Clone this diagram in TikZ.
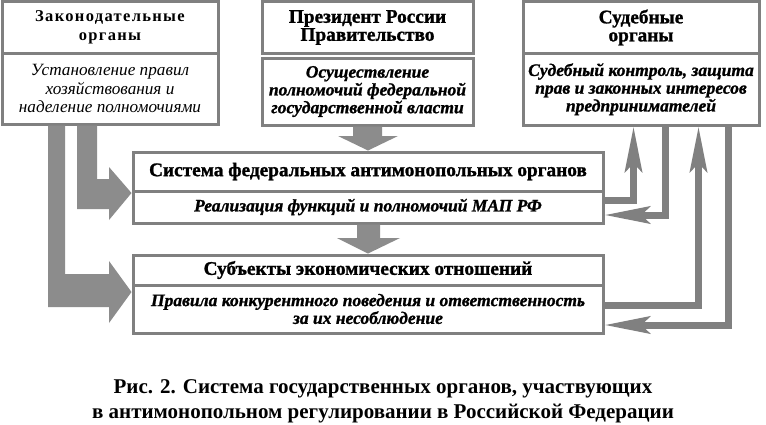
\documentclass[tikz,border=0pt]{standalone}
\usepackage{fontspec}
\setmainfont{Liberation Serif}
\newfontfamily\spacedbold[UprightFont={* Bold},LetterSpace=8]{Liberation Serif}
\newfontfamily\heavyfont[UprightFont={* Bold},FakeBold=1.2]{Liberation Serif}
\newfontfamily\heavyit[UprightFont={* Bold Italic},FakeBold=1.2]{Liberation Serif}
\usetikzlibrary{arrows.meta,calc}
\definecolor{lg}{RGB}{128,128,128}
\definecolor{ag}{RGB}{140,140,140}
\begin{document}
\begin{tikzpicture}[x=1pt,y=-1pt,
 box/.style={draw=lg,line width=3pt,anchor=north west,inner sep=0pt,outer sep=0pt,align=center,fill=white},
 hdrL/.style={font=\spacedbold\fontsize{16.5}{19}\selectfont},
 hdrH/.style={font=\heavyfont\fontsize{19.3}{18}\selectfont},
 descI/.style={font=\itshape\fontsize{17.2}{18.5}\selectfont},
 descB/.style={font=\heavyit\fontsize{17.5}{17.8}\selectfont},
 thinarr/.style={draw=lg,line width=7pt,line join=miter,-{Stealth[length=45pt,width=17pt,inset=8pt]}},
 blk/.style={fill=ag,draw=none},
]
\useasboundingbox[fill=white] (0,0) rectangle (766,424);
% boxes
\node[box,hdrL,minimum width=216pt,minimum height=51.5pt] (legH) at (2,1.5) {Законодательные\\органы};
\node[box,descI,minimum width=216pt,minimum height=71pt] (legD) at (2,53) {Установление правил\\хозяйствования и\\наделение полномочиями};
\node[box,hdrH,minimum width=211pt,minimum height=52pt] (presH) at (262,1.5) {Президент России\\Правительство};
\node[box,descB,minimum width=211pt,minimum height=67pt] (presD) at (262,58) {Осуществление\\полномочий федеральной\\государственной власти};
\node[box,hdrH,minimum width=236pt,minimum height=52pt] (judH) at (523,1.5) {Судебные\\органы};
\node[box,descB,minimum width=236pt,minimum height=71.5pt] (judD) at (523,53.5) {Судебный контроль, защита\\прав и законных интересов\\предпринимателей};
\node[box,hdrH,minimum width=470pt,minimum height=39pt] (sysH) at (133,152) {Система федеральных антимонопольных органов};
\node[box,descB,minimum width=470pt,minimum height=32pt] (sysD) at (133,191) {Реализация функций и полномочий МАП РФ};
\node[box,hdrH,minimum width=470pt,minimum height=30pt] (subH) at (133,255) {Субъекты экономических отношений};
\node[box,descB,minimum width=470pt,minimum height=48pt] (subD) at (133,285) {Правила конкурентного поведения и ответственность\\за их несоблюдение};
% block arrows
\fill[blk] ($(legD.south west)+(46,1.5)$) -- (65,125.5) -- (65,274) -- (109,274) -- (109,261) -- ($(subD.west |- 0,292)+(-1.5,0)$) -- (109,323) -- (109,307) -- (48,307) -- cycle;
\fill[blk] ($(legD.south west)+(75,1.5)$) -- (97,125.5) -- (97,179) -- (109,179) -- (109,167) -- ($(sysD.west |- 0,193)+(-1.5,0)$) -- (109,220) -- (109,209) -- (77,209) -- cycle;
\fill[blk] ($(presD.south west)+(91,1.5)$) -- (382,126.5) -- (382,136) -- (398,136) -- ($(sysH.north -| 368,0)+(0,-1.5)$) -- (338,136) -- (353,136) -- cycle;
\fill[blk] ($(sysD.south west)+(224,1.5)$) -- (380,224.5) -- (380,238) -- (400,238) -- ($(subH.north -| 368,0)+(0,-1.5)$) -- (337,238) -- (357,238) -- cycle;
% thin arrows
\draw[thinarr] ($(sysD.north east)+(1.5,9)$) -| ($(judD.south west)+(110.5,1.5)$);
\draw[thinarr] ($(judD.south west)+(142.5,1.5)$) |- ($(sysD.north east)+(1.5,24)$);
\draw[thinarr] ($(subD.north east)+(1.5,20)$) -| ($(judD.south west)+(175.5,1.5)$);
\draw[thinarr] ($(judD.south west)+(205,1.5)$) |- ($(subD.north east)+(1.5,40)$);
% caption
\node[font=\bfseries\fontsize{21}{25}\selectfont,align=center] (cap) at (383,401) {Рис. 2. Система государственных органов, участвующих\\в антимонопольном регулировании в Российской Федерации};
\end{tikzpicture}
\end{document}
